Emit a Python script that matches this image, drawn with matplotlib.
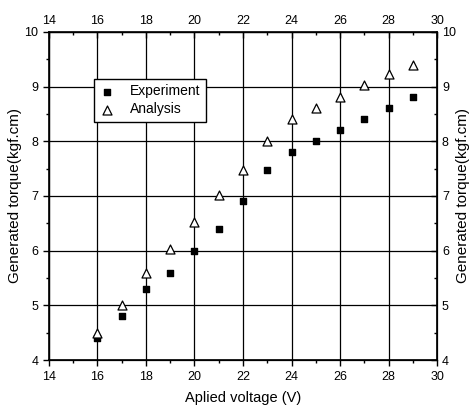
import matplotlib
matplotlib.use('Agg')
import matplotlib.pyplot as plt

plt.rcParams['font.family'] = ['Liberation Sans', 'DejaVu Sans']

voltage = [16, 17, 18, 19, 20, 21, 22, 23, 24, 25, 26, 27, 28, 29]
experiment = [4.4, 4.8, 5.3, 5.6, 6.0, 6.4, 6.9, 7.47, 7.8, 8.0, 8.2, 8.4, 8.6, 8.8]
analysis = [4.5, 5.0, 5.6, 6.03, 6.52, 7.02, 7.48, 8.0, 8.4, 8.6, 8.8, 9.02, 9.22, 9.4]

x_ticks = [14, 16, 18, 20, 22, 24, 26, 28, 30]
y_ticks = [4, 5, 6, 7, 8, 9, 10]

fig = plt.figure(figsize=(4.7, 4.13), dpi=100)
ax = fig.add_axes([0.104, 0.128, 0.826, 0.795])

ax.scatter(voltage, experiment, marker='s', s=24, color='black', label='Experiment', zorder=3)
ax.scatter(voltage, analysis, marker='^', s=42, facecolors='white', edgecolors='black',
           linewidths=0.9, label='Analysis', zorder=3)

ax.set_xlim(14, 30)
ax.set_ylim(4, 10)
ax.set_xticks(x_ticks)
ax.set_yticks(y_ticks)
ax.set_xticks(range(15, 30, 2), minor=True)
ax.set_yticks([4.5, 5.5, 6.5, 7.5, 8.5, 9.5], minor=True)
ax.grid(True, which='major', color='black', linewidth=0.9)
for s in ax.spines.values():
    s.set_linewidth(1.2)

ax.tick_params(which='both', direction='out', labelsize=9, width=1)
ax.tick_params(which='major', length=4)
ax.tick_params(which='minor', length=2.5)
ax.set_xlabel('Aplied voltage (V)', fontsize=10.5, labelpad=6)
ax.set_ylabel('Generated torque(kgf.cm)', fontsize=11, labelpad=2)

# top and right duplicate axes
top = ax.twiny()
top.set_xlim(14, 30)
top.set_xticks(x_ticks)
top.set_xticks(range(15, 30, 2), minor=True)
top.tick_params(which='both', direction='in', labelsize=9, width=1)
top.tick_params(which='major', length=4)
top.tick_params(which='minor', length=2.5)

right = ax.twinx()
right.set_ylim(4, 10)
right.set_yticks(y_ticks)
right.set_yticks([4.5, 5.5, 6.5, 7.5, 8.5, 9.5], minor=True)
right.tick_params(which='both', direction='in', labelsize=9, width=1)
right.tick_params(which='major', length=4)
right.tick_params(which='minor', length=2.5)
right.set_ylabel('Generated torque(kgf.cm)', fontsize=11, labelpad=0)

leg = ax.legend(loc='upper left', bbox_to_anchor=(0.115, 0.857), borderaxespad=0,
                fontsize=10, frameon=True, fancybox=False, edgecolor='black',
                framealpha=1, handlelength=1.2, handletextpad=1.0,
                borderpad=0.4, labelspacing=0.3)
leg.get_frame().set_linewidth(1.0)

fig.savefig('out.png', dpi=100)
